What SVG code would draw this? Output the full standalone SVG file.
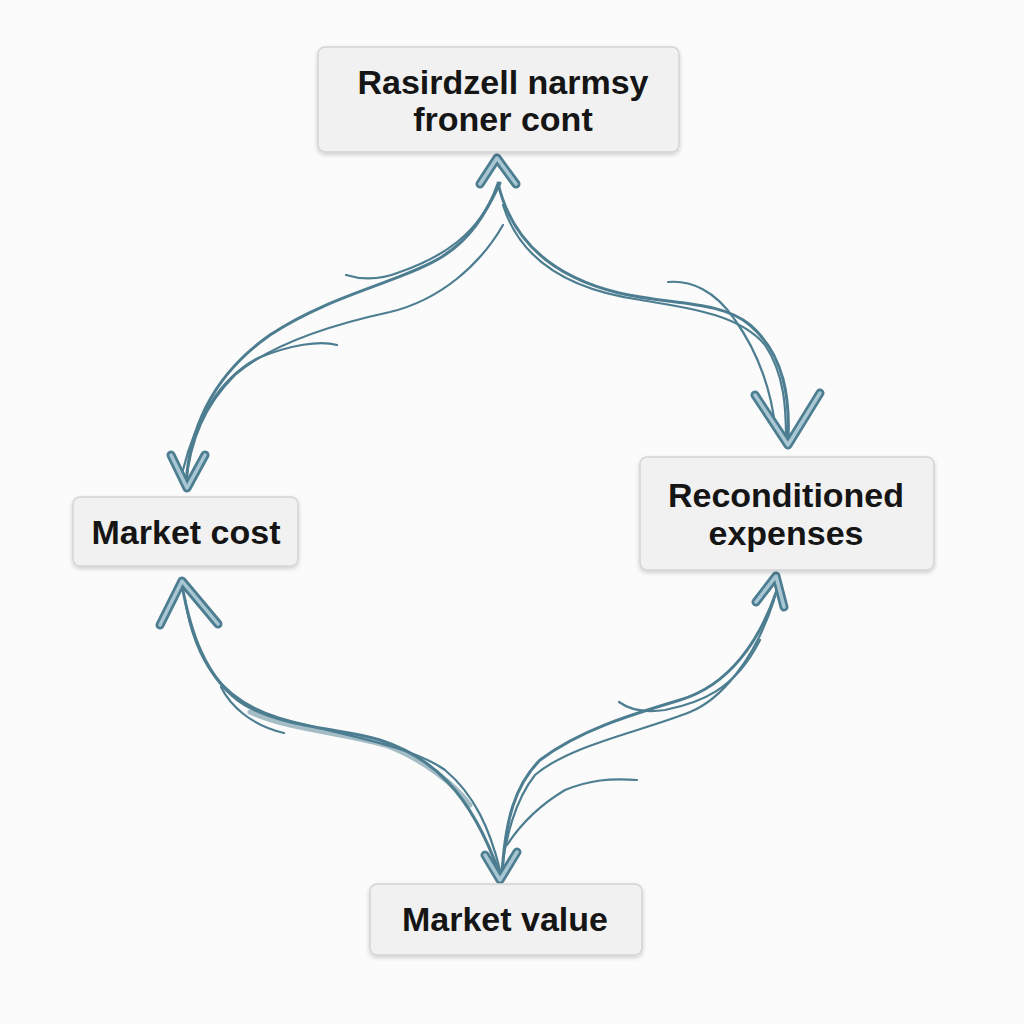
<svg xmlns="http://www.w3.org/2000/svg" width="1024" height="1024" viewBox="0 0 1024 1024">
<defs>
<filter id="sh" x="-10%" y="-20%" width="120%" height="150%">
<feDropShadow dx="0" dy="2" stdDeviation="2" flood-color="#000" flood-opacity="0.18"/>
</filter>
</defs>
<style>
.box{fill:#f1f1f1;stroke:#d4d4d4;stroke-width:1.5;filter:url(#sh)}
.lbl{font-family:"Liberation Sans",Arial,sans-serif;font-weight:bold;font-size:34px;fill:#151515;text-anchor:middle}
.ln{fill:none;stroke:#4d7d90;stroke-linecap:round;stroke-linejoin:round}
.w3{stroke-width:3}
.w2{stroke-width:2.2}
.ahd{fill:none;stroke:#4d7d90;stroke-width:9;stroke-linecap:round;stroke-linejoin:round}
.ahl{fill:none;stroke:#a9c7d3;stroke-width:3.5;stroke-linecap:round;stroke-linejoin:round}
</style>
<rect width="1024" height="1024" fill="#fafbfa"/>

<g id="connectors">
<!-- top to market cost -->
<path class="ln w3" d="M500,183 C485,215 470,240 440,258 C400,282 330,295 270,335 C220,370 190,420 186,484"/>
<path class="ln w2" d="M503,225 C480,265 440,300 390,312 C330,325 270,345 235,375 C205,405 190,440 186,484"/>
<path class="ln w2" d="M346,275 C362,280 380,280 400,272 C440,258 480,235 497,185"/>
<path class="ln w2" d="M337,345 C320,340 290,345 258,358 C220,378 195,420 183,470"/>
<!-- top to reconditioned -->
<path class="ln w3" d="M498,183 C510,235 545,275 619,293 C670,305 720,300 750,325 C785,355 790,400 788,440"/>
<path class="ln w2" d="M503,205 C520,260 570,290 641,300 C690,308 740,315 765,345 C785,375 786,410 786,438"/>
<path class="ln w2" d="M668,282 C690,280 715,290 735,320 C760,355 772,395 775,427"/>
<!-- market cost to market value -->
<path class="ln" stroke="#8fa3ab" stroke-width="5" opacity="0.5" d="M250,712 C290,730 340,732 385,745 C425,760 455,785 470,805"/>
<path class="ln w3" d="M182,585 C190,630 205,680 245,705 C285,728 340,728 380,740 C430,756 470,790 500,875"/>
<path class="ln w2" d="M185,600 C195,660 220,700 280,718 C340,735 410,745 445,770 C475,795 490,830 500,870"/>
<path class="ln w2" d="M221,687 C230,705 250,725 284,733"/>
<!-- reconditioned to market value -->
<path class="ln w3" d="M777,590 C760,640 730,685 680,700 C630,715 580,730 540,760 C515,785 505,820 502,875"/>
<path class="ln w2" d="M774,600 C755,660 720,700 690,712 C640,732 570,745 535,775 C515,800 505,840 502,870"/>
<path class="ln w2" d="M619,702 C630,710 645,713 665,710 C700,703 735,690 760,640"/>
<path class="ln w2" d="M637,780 C610,778 590,780 565,790 C540,805 520,825 507,845"/>
<!-- arrowheads -->
<path class="ahd" d="M480,184 L497,158 L516,184"/>
<path class="ahl" d="M480,184 L497,158 L516,184"/>
<path class="ahd" d="M171,455 L187,488 L205,455"/>
<path class="ahl" d="M171,455 L187,488 L205,455"/>
<path class="ahd" d="M755,395 L788,445 L820,393"/>
<path class="ahl" d="M755,395 L788,445 L820,393"/>
<path class="ahd" d="M160,625 L182,581 L218,624"/>
<path class="ahl" d="M160,625 L182,581 L218,624"/>
<path class="ahd" d="M756,602 L776,576 L784,607"/>
<path class="ahl" d="M756,602 L776,576 L784,607"/>
<path class="ahd" d="M485,855 L500,880 L517,852"/>
<path class="ahl" d="M485,855 L500,880 L517,852"/>
</g>

<g id="node-top">
<rect class="box" x="318" y="47" width="361" height="105" rx="7"/>
<text class="lbl" x="503" y="94" font-size="32">Rasirdzell narmsy</text>
<text class="lbl" x="503" y="131" font-size="32">froner cont</text>
</g>
<g id="node-market-cost">
<rect class="box" x="73" y="497" width="225" height="69" rx="7"/>
<text class="lbl" x="186" y="544">Market cost</text>
</g>
<g id="node-reconditioned">
<rect class="box" x="640" y="457" width="294" height="113" rx="7"/>
<text class="lbl" x="786" y="507" font-size="32">Reconditioned</text>
<text class="lbl" x="786" y="545" font-size="32">expenses</text>
</g>
<g id="node-market-value">
<rect class="box" x="370" y="884" width="272" height="71" rx="7"/>
<text class="lbl" x="505" y="931">Market value</text>
</g>
</svg>
